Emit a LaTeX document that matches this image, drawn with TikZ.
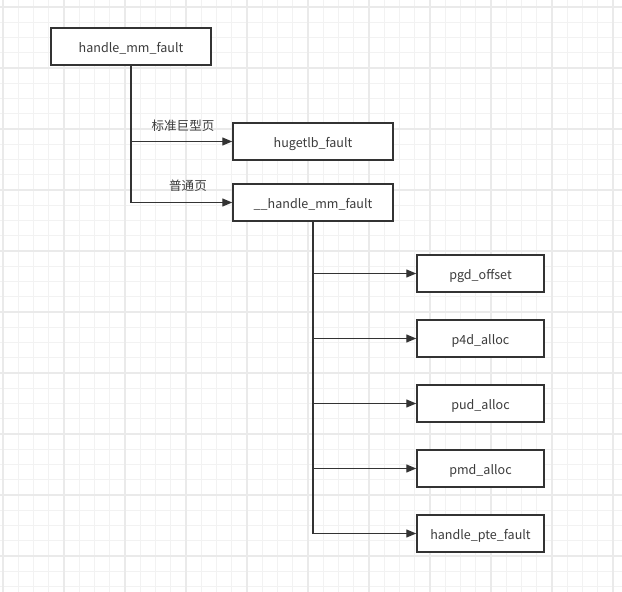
\documentclass[tikz,border=0pt]{standalone}
\usepackage{fontspec}
\setmainfont{Noto Sans CJK SC}
\usetikzlibrary{arrows.meta}
\definecolor{ink}{HTML}{333333}
\definecolor{txt}{HTML}{3C3C3C}
\definecolor{gminor}{HTML}{F2F2F2}
\definecolor{gmajor}{HTML}{EAEAEA}
\begin{document}
\begin{tikzpicture}[x=0.75pt,y=-0.75pt,
  box/.style={draw=ink,line width=1.1pt,fill=white,minimum height=27.75pt,inner sep=0pt,text=txt,text height=0.9em,text depth=0pt,font=\fontsize{9.4pt}{11pt}\selectfont},
  wide/.style={box,minimum width=120pt},
  narrow/.style={box,minimum width=95.25pt},
  conn/.style={draw=ink,line width=0.9pt,-{Triangle[length=7.5pt,width=6pt]}},
  lbl/.style={text=txt,inner sep=0pt,text height=0.9em,text depth=0pt,font=\fontsize{9.4pt}{11pt}\selectfont}]
\useasboundingbox (0,0) rectangle (622,592);
\fill[white] (0,0) rectangle (622,592);
% grid
\foreach \k in {0,...,40}{
  \draw[gminor,line width=0.75pt] ({3+15.25*\k},0) -- ({3+15.25*\k},592);
}
\foreach \k in {0,...,38}{
  \draw[gminor,line width=0.75pt] (0,{7+15.25*\k}) -- (622,{7+15.25*\k});
}
\foreach \k in {0,...,10}{
  \draw[gmajor,line width=1pt] ({3+61*\k},0) -- ({3+61*\k},592);
}
\foreach \k in {0,...,9}{
  \draw[gmajor,line width=1pt] (0,{7+61*\k}) -- (622,{7+61*\k});
}
% nodes
\node[wide] (hmf) at (131,46.5) {handle\_mm\_fault};
\node[wide] (huge) at (313,141.5) {hugetlb\_fault};
\node[wide] (hmf2) at (313,202.5) {\_\_handle\_mm\_fault};
\node[narrow] (pgd) at (480.5,273.5) {pgd\_offset};
\node[narrow] (p4d) at (480.5,338.5) {p4d\_alloc};
\node[narrow] (pud) at (480.5,403.5) {pud\_alloc};
\node[narrow] (pmd) at (480.5,468.5) {pmd\_alloc};
\node[narrow] (pte) at (480.5,533.5) {handle\_pte\_fault};
% connectors
\draw[conn] (hmf.south) |- (huge.west);
\draw[conn] (hmf.south) |- (hmf2.west);
\foreach \t in {pgd,p4d,pud,pmd,pte}{
  \draw[conn] (hmf2.south) |- (\t.west);
}
% labels
\node[lbl] (l1) at (183,125) {标准巨型页};
\node[lbl] (l2) at (188,184.5) {普通页};
\end{tikzpicture}
\end{document}
